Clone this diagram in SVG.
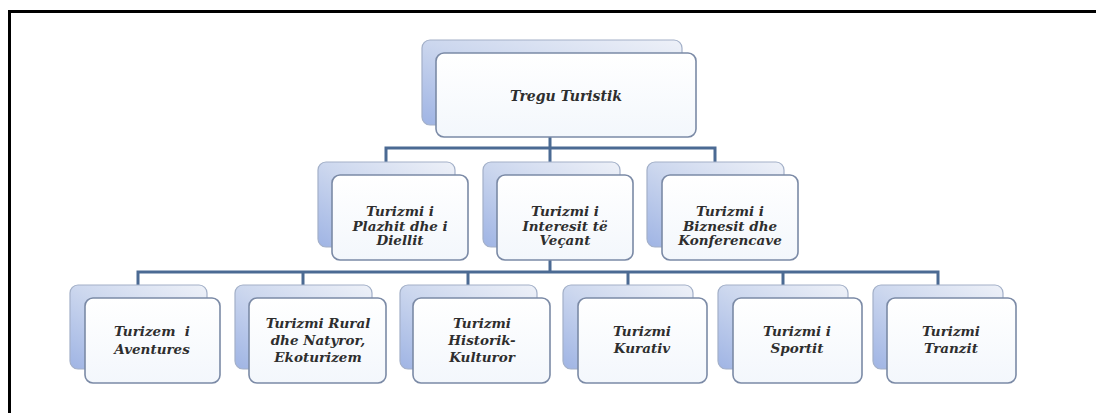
<svg xmlns="http://www.w3.org/2000/svg" width="1096" height="413" viewBox="0 0 1096 413">
<defs>
<linearGradient id="gBack" x1="1" y1="0" x2="0" y2="1">
<stop offset="0" stop-color="#eef1f8"/>
<stop offset="0.5" stop-color="#ccd7ee"/>
<stop offset="1" stop-color="#9fb4e4"/>
</linearGradient>
<linearGradient id="gFront" x1="0" y1="0" x2="0" y2="1">
<stop offset="0" stop-color="#ffffff"/>
<stop offset="1" stop-color="#f3f7fc"/>
</linearGradient>
<style>
.back{fill:url(#gBack);stroke:#a3b0c8;stroke-width:1.2}
.front{fill:url(#gFront);stroke:#7b8aa6;stroke-width:1.6}
.t{font-family:"DejaVu Serif","Liberation Serif",serif;font-weight:bold;font-style:italic;font-size:13.5px;fill:#2e2e2e;text-anchor:middle}
.conn{stroke:#4b6a93;stroke-width:3;fill:none}
</style>
</defs>
<rect x="0" y="0" width="1096" height="413" fill="#ffffff"/>
<path d="M9.5 430 V11.5 H1100" fill="none" stroke="#000" stroke-width="3"/>
<g id="connectors">
<path class="conn" d="M550 137 V148 M386 162 V148 H715 V162 M550 148 V162"/>
<path class="conn" d="M550 260 V272 M138 285 V272 H938 V285 M303 272 V285 M468 272 V285 M628 272 V285 M783 272 V285"/>
</g>
<g id="n_root">
<rect class="back" x="422" y="40" width="260" height="85" rx="8"/>
<rect class="front" x="436" y="53" width="260" height="84" rx="8"/>
<text class="t" x="566" y="101" style="font-size:14px">Tregu Turistik</text>
</g>
<g id="n_plazhit">
<rect class="back" x="318" y="162" width="137" height="85" rx="8"/>
<rect class="front" x="332" y="175" width="136" height="85" rx="8"/>
<text class="t" x="400" y="216">Turizmi i</text>
<text class="t" x="400" y="231">Plazhit dhe i</text>
<text class="t" x="400" y="245">Diellit</text>
</g>
<g id="n_interesit">
<rect class="back" x="483" y="162" width="137" height="85" rx="8"/>
<rect class="front" x="497" y="175" width="136" height="85" rx="8"/>
<text class="t" x="565" y="216">Turizmi i</text>
<text class="t" x="565" y="231">Interesit të</text>
<text class="t" x="565" y="245">Veçant</text>
</g>
<g id="n_biznesit">
<rect class="back" x="647" y="162" width="137" height="85" rx="8"/>
<rect class="front" x="662" y="175" width="136" height="85" rx="8"/>
<text class="t" x="730" y="216">Turizmi i</text>
<text class="t" x="730" y="231">Biznesit dhe</text>
<text class="t" x="730" y="245">Konferencave</text>
</g>
<g id="n_aventures">
<rect class="back" x="70" y="285" width="137" height="84" rx="8"/>
<rect class="front" x="85" y="298" width="135" height="85" rx="8"/>
<text class="t" x="152" y="336" xml:space="preserve">Turizem  i</text>
<text class="t" x="152" y="354">Aventures</text>
</g>
<g id="n_rural">
<rect class="back" x="235" y="285" width="137" height="84" rx="8"/>
<rect class="front" x="249" y="298" width="137" height="85" rx="8"/>
<text class="t" x="318" y="328">Turizmi Rural</text>
<text class="t" x="318" y="345">dhe Natyror,</text>
<text class="t" x="318" y="362">Ekoturizem</text>
</g>
<g id="n_historik">
<rect class="back" x="400" y="285" width="137" height="84" rx="8"/>
<rect class="front" x="413" y="298" width="137" height="85" rx="8"/>
<text class="t" x="482" y="328">Turizmi</text>
<text class="t" x="482" y="345">Historik-</text>
<text class="t" x="482" y="362">Kulturor</text>
</g>
<g id="n_kurativ">
<rect class="back" x="563" y="285" width="130" height="84" rx="8"/>
<rect class="front" x="578" y="298" width="129" height="85" rx="8"/>
<text class="t" x="642" y="336">Turizmi</text>
<text class="t" x="642" y="353">Kurativ</text>
</g>
<g id="n_sportit">
<rect class="back" x="718" y="285" width="130" height="84" rx="8"/>
<rect class="front" x="733" y="298" width="129" height="85" rx="8"/>
<text class="t" x="797" y="336">Turizmi i</text>
<text class="t" x="797" y="353">Sportit</text>
</g>
<g id="n_tranzit">
<rect class="back" x="873" y="285" width="130" height="84" rx="8"/>
<rect class="front" x="887" y="298" width="129" height="85" rx="8"/>
<text class="t" x="951" y="336">Turizmi</text>
<text class="t" x="951" y="353">Tranzit</text>
</g>
</svg>
